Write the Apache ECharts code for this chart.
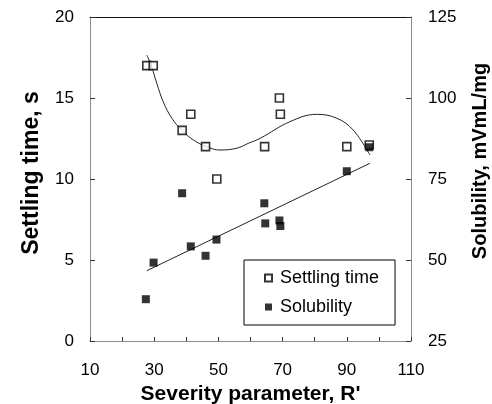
<!DOCTYPE html>
<html>
<head>
<meta charset="utf-8">
<script src="https://cdn.jsdelivr.net/npm/echarts@6/dist/echarts.min.js"></script>
<style>html,body{margin:0;padding:0;background:#fff}#c{width:492px;height:404px}</style>
</head>
<body>
<div id="c"></div>
<script>
// Settling time (s) vs severity parameter
var settlingX = [27.7, 29.7, 38.7, 41.4, 46.0, 49.5, 64.4, 69.0, 69.3, 90.0, 97.0];
var settlingY = [17.0, 17.0, 13.0, 14.0, 12.0, 10.0, 12.0, 15.0, 14.0, 12.0, 12.1];
// Solubility (mVmL/mg) vs severity parameter
var solubX = [27.4, 29.8, 38.7, 41.4, 46.0, 49.4, 64.3, 64.6, 69.0, 69.3, 90.0, 97.0];
var solubY = [37.9, 49.2, 70.6, 54.2, 51.3, 56.3, 67.5, 61.3, 62.2, 60.5, 77.4, 84.8];
// Polynomial trendline of settling time
var trendSetX = [27.7, 29.2, 30.8, 32.8, 35.5, 38.6, 42.2, 46.4, 50.5, 55.7, 59.3, 63.0, 72.3, 80.6, 86.9, 92.0, 97.2];
var trendSetY = [17.65, 16.93, 15.91, 14.77, 13.75, 13.02, 12.41, 11.99, 11.79, 11.90, 12.20, 12.51, 13.54, 13.99, 13.75, 13.02, 11.48];
// Linear trendline of solubility (end points)
var trendSolX = [27.7, 97.2];
var trendSolY = [46.7, 79.85];
// Axis ticks
var xTicks = [10, 110, 10];
var yLeftTicks = [0, 20, 5];
var yRightTicks = [25, 125, 25];
// Axis titles
var xTitle = "Severity parameter, R'";
var yLeftTitle = 'Settling time, s';
var yRightTitle = 'Solubility, mVmL/mg';

function zip(a, b) { return a.map(function (v, i) { return [v, b[i]]; }); }

var font = 'Liberation Sans, Arial, sans-serif';
var gray = '#8c8c8c';
var chart = echarts.init(document.getElementById('c'));
chart.setOption({
  animation: false,
  backgroundColor: '#fff',
  grid: { left: 90, right: 81, top: 17, bottom: 63, containLabel: false, outerBoundsMode: 'none' },
  graphic: [{
    type: 'text', x: 32, y: 173, rotation: Math.PI / 2, silent: true,
    style: { text: yLeftTitle, font: 'bold 23px ' + font, fill: '#000', textAlign: 'center', textVerticalAlign: 'middle' }
  }, {
    type: 'text', x: 480, y: 161, rotation: Math.PI / 2, silent: true,
    style: { text: yRightTitle, font: 'bold 20px ' + font, fill: '#000', textAlign: 'center', textVerticalAlign: 'middle' }
  }],
  legend: {
    data: [{ name: 'Settling time', icon: 'rect' }, { name: 'Solubility', icon: 'rect' }],
    orient: 'vertical',
    left: 244, top: 260,
    padding: [9, 16, 9, 20],
    itemWidth: 7, itemHeight: 7, itemGap: 11,
    borderColor: '#000', borderWidth: 1,
    backgroundColor: '#fff',
    textStyle: { fontFamily: font, fontSize: 18, color: '#000', padding: [0, 0, 0, 3] }
  },
  xAxis: [{
    type: 'value', min: xTicks[0], max: xTicks[1], interval: xTicks[2],
    name: xTitle, nameLocation: 'middle', nameGap: 39,
    nameTextStyle: { fontFamily: font, fontSize: 21, fontWeight: 'bold', color: '#000' },
    axisLine: { lineStyle: { color: gray, width: 1 } },
    axisTick: { inside: true, length: 4, lineStyle: { color: '#333' } },
    axisLabel: { fontFamily: font, fontSize: 17, color: '#000', margin: 21,
      formatter: function (v) { return ((v - 10) % 20 === 0) ? String(v) : ''; } },
    splitLine: { show: false }
  }, {
    type: 'value', position: 'top', min: xTicks[0], max: xTicks[1],
    axisLine: { show: true, lineStyle: { color: '#111', width: 1 } },
    axisTick: { show: false }, axisLabel: { show: false }, splitLine: { show: false }
  }],
  yAxis: [{
    type: 'value', min: yLeftTicks[0], max: yLeftTicks[1], interval: yLeftTicks[2],
    axisLine: { show: true, lineStyle: { color: gray, width: 1 } },
    axisTick: { show: true, inside: true, length: 5, lineStyle: { color: '#333' } },
    axisLabel: { fontFamily: font, fontSize: 17, color: '#000', margin: 16 },
    splitLine: { show: false }
  }, {
    type: 'value', position: 'right', min: yRightTicks[0], max: yRightTicks[1], interval: yRightTicks[2],
    axisLine: { show: true, lineStyle: { color: gray, width: 1 } },
    axisTick: { show: true, inside: true, length: 5, lineStyle: { color: '#333' } },
    axisLabel: { fontFamily: font, fontSize: 17, color: '#000', margin: 17, align: 'left' },
    splitLine: { show: false }
  }],
  series: [{
    name: 'SettlingTrend', type: 'line', smooth: 0.4, showSymbol: false, silent: true,
    data: zip(trendSetX, trendSetY), yAxisIndex: 0,
    lineStyle: { color: '#222', width: 1 }
  }, {
    name: 'SolubilityTrend', type: 'line', showSymbol: false, silent: true,
    data: zip(trendSolX, trendSolY), yAxisIndex: 1,
    lineStyle: { color: '#222', width: 1 }
  }, {
    name: 'Settling time', type: 'scatter', symbol: 'rect', symbolSize: 8,
    data: zip(settlingX, settlingY), yAxisIndex: 0, z: 3,
    itemStyle: { color: '#fff', borderColor: '#000', borderWidth: 1.6 }
  }, {
    name: 'Solubility', type: 'scatter', symbol: 'rect', symbolSize: 8,
    data: zip(solubX, solubY), yAxisIndex: 1, z: 4,
    itemStyle: { color: '#000', borderColor: '#000', borderWidth: 0 }
  }]
});
</script>
</body>
</html>
